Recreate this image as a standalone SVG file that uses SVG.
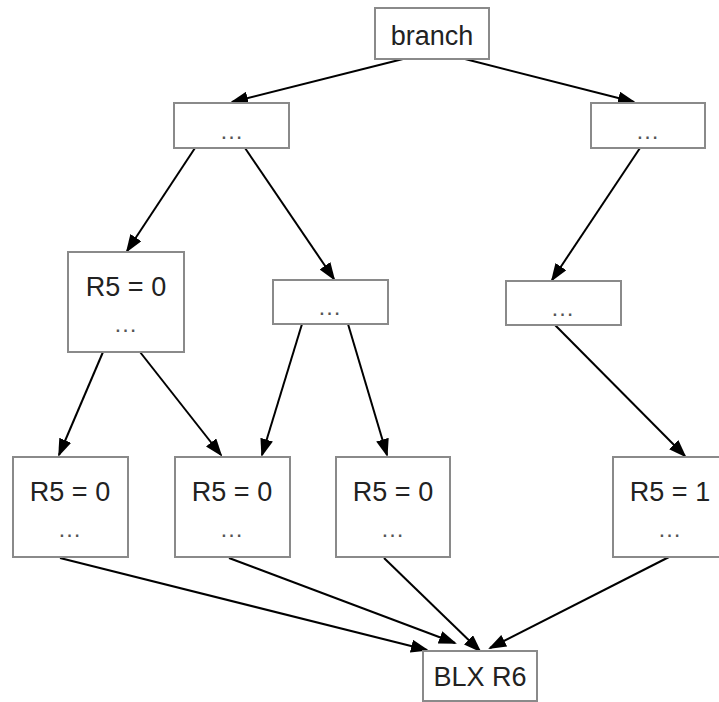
<svg xmlns="http://www.w3.org/2000/svg" width="719" height="702" viewBox="0 0 719 702">
  <style>
    .box { fill: #ffffff; stroke: #8a8a8a; stroke-width: 2; }
    .lbl { font-family: "Liberation Sans", Arial, sans-serif; font-size: 27px; fill: #222222; text-anchor: middle; }
    .dots { font-family: "Liberation Sans", Arial, sans-serif; font-size: 24px; fill: #555555; text-anchor: middle; letter-spacing: 1px; }
    .edge { stroke: #000000; stroke-width: 2; fill: none; marker-end: url(#arrow); }
  </style>
  <defs>
    <marker id="arrow" markerUnits="userSpaceOnUse" markerWidth="18" markerHeight="13" refX="16" refY="6.5" orient="auto">
      <path d="M0,0 L18,6.5 L0,13 z" fill="#000000"/>
    </marker>
  </defs>

  <rect width="719" height="702" fill="#ffffff"/>

  <g id="connectors">
    <line class="edge" x1="403" y1="59" x2="232" y2="102"/>
    <line class="edge" x1="465" y1="59" x2="634" y2="102"/>
    <line class="edge" x1="195" y1="148" x2="127" y2="251"/>
    <line class="edge" x1="245" y1="148" x2="334" y2="279"/>
    <line class="edge" x1="640" y1="148" x2="552" y2="280"/>
    <line class="edge" x1="103" y1="352" x2="59" y2="455"/>
    <line class="edge" x1="140" y1="352" x2="221" y2="455"/>
    <line class="edge" x1="302" y1="324" x2="262" y2="455"/>
    <line class="edge" x1="348" y1="324" x2="387" y2="455"/>
    <line class="edge" x1="555" y1="325" x2="685" y2="456"/>
    <line class="edge" x1="60" y1="558" x2="427" y2="650"/>
    <line class="edge" x1="229" y1="558" x2="455" y2="643"/>
    <line class="edge" x1="384" y1="558" x2="480" y2="651"/>
    <line class="edge" x1="669" y1="557" x2="490" y2="648"/>
  </g>

  <g id="branch">
    <rect class="box" x="375" y="8" width="114" height="51"/>
    <text class="lbl" x="432" y="45">branch</text>
  </g>

  <g id="top-left">
    <rect class="box" x="174" y="103" width="115" height="45"/>
    <text class="dots" x="232" y="139">…</text>
  </g>

  <g id="top-right">
    <rect class="box" x="591" y="103" width="114" height="45"/>
    <text class="dots" x="648" y="139">…</text>
  </g>

  <g id="mid-left">
    <rect class="box" x="68" y="252" width="116" height="100"/>
    <text class="lbl" x="126" y="296">R5 = 0</text>
    <text class="dots" x="126" y="332">…</text>
  </g>

  <g id="mid-center">
    <rect class="box" x="273" y="280" width="115" height="44"/>
    <text class="dots" x="330" y="315">…</text>
  </g>

  <g id="mid-right">
    <rect class="box" x="506" y="281" width="115" height="44"/>
    <text class="dots" x="563" y="316">…</text>
  </g>

  <g id="leaf-1">
    <rect class="box" x="13" y="457" width="115" height="100"/>
    <text class="lbl" x="70" y="501">R5 = 0</text>
    <text class="dots" x="70" y="537">…</text>
  </g>

  <g id="leaf-2">
    <rect class="box" x="175" y="457" width="115" height="100"/>
    <text class="lbl" x="232" y="501">R5 = 0</text>
    <text class="dots" x="232" y="537">…</text>
  </g>

  <g id="leaf-3">
    <rect class="box" x="336" y="457" width="114" height="100"/>
    <text class="lbl" x="393" y="501">R5 = 0</text>
    <text class="dots" x="393" y="537">…</text>
  </g>

  <g id="leaf-4">
    <rect class="box" x="613" y="457" width="115" height="100"/>
    <text class="lbl" x="670" y="501">R5 = 1</text>
    <text class="dots" x="670" y="537">…</text>
  </g>

  <g id="blx">
    <rect class="box" x="423" y="651" width="114" height="50"/>
    <text class="lbl" x="480" y="686">BLX R6</text>
  </g>
</svg>
